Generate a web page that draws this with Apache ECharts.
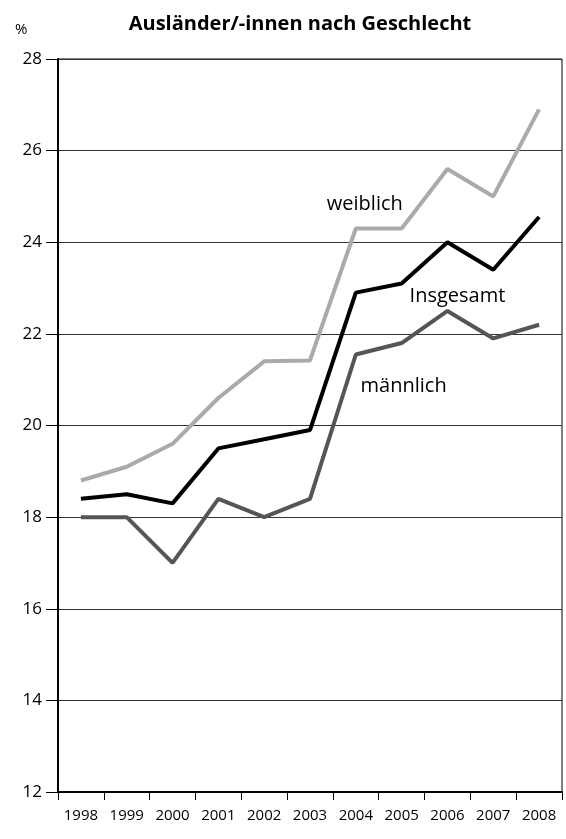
<!DOCTYPE html>
<html>
<head>
<meta charset="utf-8">
<script src="https://cdn.jsdelivr.net/npm/echarts@6/dist/echarts.min.js"></script>
<style>
    html, body { margin: 0; padding: 0; background: #fff; }
    #chart { width: 566px; height: 839px; }
</style>
</head>
<body>
<div id="chart"></div>
<script>
const years = ['1998', '1999', '2000', '2001', '2002', '2003', '2004', '2005', '2006', '2007', '2008'];
const weiblich = [18.8, 19.1, 19.6, 20.6, 21.4, 21.42, 24.3, 24.3, 25.6, 25.0, 26.9];
const insgesamt = [18.4, 18.5, 18.3, 19.5, 19.7, 19.9, 22.9, 23.1, 24.0, 23.4, 24.55];
const maennlich = [18.0, 18.0, 17.0, 18.4, 18.0, 18.4, 21.55, 21.8, 22.5, 21.9, 22.2];

const font = '"Open Sans", "Noto Sans", sans-serif';

// label anchors: [category, value, x offset]
const labelWeiblich = ['2004', 24.83, 9];
const labelInsgesamt = ['2006', 22.83, 10];
const labelMaennlich = ['2005', 20.86, 2];

function seriesLabel(name, anchor) {
    return {
        symbol: 'circle',
        symbolSize: 1,
        silent: true,
        itemStyle: { color: 'rgba(0,0,0,0)' },
        data: [{
            coord: [anchor[0], anchor[1]],
            label: {
                show: true,
                formatter: name,
                position: 'inside',
                offset: [anchor[2], 0],
                color: '#000',
                fontSize: 20,
                fontFamily: font,
            },
        }],
    };
}

let chart = echarts.init(document.getElementById('chart'));
let option = {
    animation: false,
    title: {
        text: 'Ausländer/-innen nach Geschlecht',
        left: 295,
        top: 9,
        textAlign: 'center',
        textStyle: {
            fontFamily: font,
            fontWeight: 'bold',
            fontSize: 20,
            color: '#000',
        },
    },
    graphic: [{
        type: 'text',
        left: 15,
        top: 22,
        style: { text: '%', fontFamily: font, fontSize: 15, fill: '#000' },
    }],
    grid: {
        left: 58,
        right: 4,
        top: 59,
        bottom: 47,
        show: true,
        borderColor: '#000',
        borderWidth: 1,
    },
    xAxis: {
        type: 'category',
        data: years,
        boundaryGap: true,
        axisLine: { lineStyle: { color: '#000', width: 2 } },
        axisTick: { show: true, length: 8, alignWithLabel: false, lineStyle: { color: '#000', width: 1 } },
        axisLabel: { color: '#000', fontSize: 15, fontFamily: font, margin: 16 },
    },
    yAxis: {
        type: 'value',
        min: 12,
        max: 28,
        interval: 2,
        axisLine: { show: true, lineStyle: { color: '#000', width: 2 } },
        axisTick: { show: true, length: 12, lineStyle: { color: '#000', width: 1 } },
        axisLabel: { color: '#000', fontSize: 17, fontFamily: font, margin: 16 },
        splitLine: { show: true, lineStyle: { color: '#333', width: 1 } },
    },
    series: [
        {
            name: 'weiblich',
            type: 'line',
            data: weiblich,
            symbol: 'none',
            lineStyle: { color: '#aaaaaa', width: 4 },
            markPoint: seriesLabel('weiblich', labelWeiblich),
        },
        {
            name: 'männlich',
            type: 'line',
            data: maennlich,
            symbol: 'none',
            lineStyle: { color: '#555555', width: 4 },
            markPoint: seriesLabel('männlich', labelMaennlich),
        },
        {
            name: 'Insgesamt',
            type: 'line',
            data: insgesamt,
            symbol: 'none',
            lineStyle: { color: '#000000', width: 4 },
            markPoint: seriesLabel('Insgesamt', labelInsgesamt),
        },
    ],
};
chart.setOption(option);
</script>
</body>
</html>
